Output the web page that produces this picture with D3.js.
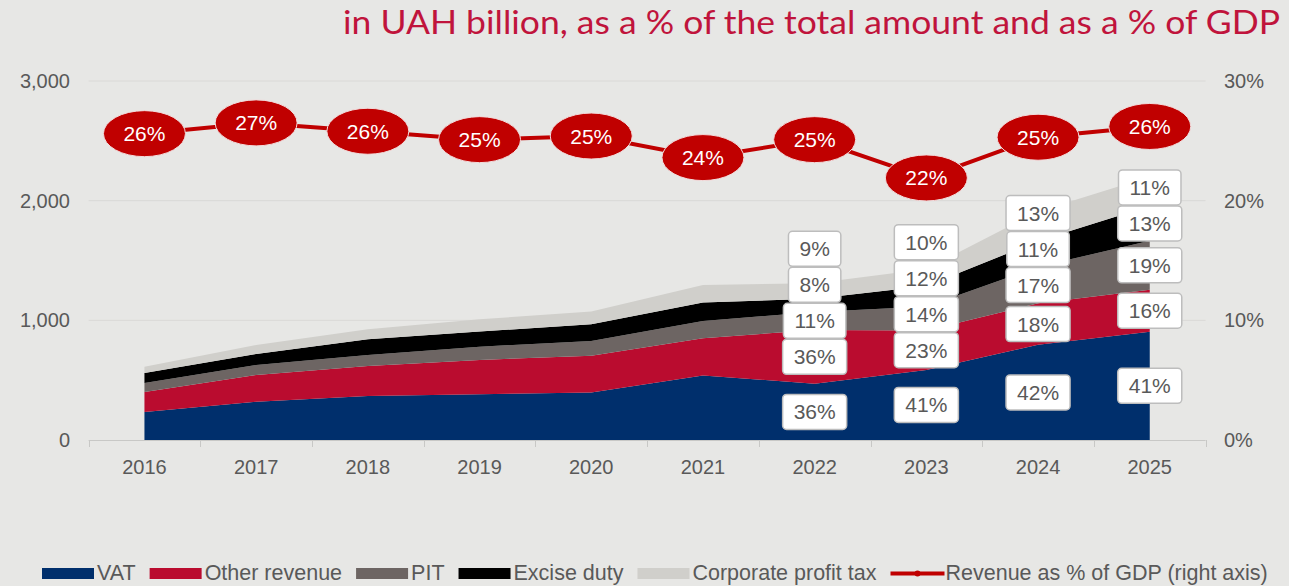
<!DOCTYPE html>
<html>
<head>
<meta charset="utf-8">
<script src="https://cdn.jsdelivr.net/npm/d3@7/dist/d3.min.js"></script>
<style>
    body { margin: 0; background: #e7e7e5; }
    svg { display: block; }
</style>
</head>
<body>
<svg id="chart"></svg>
<script>
// chart data (UAH billion)
var years = [2016, 2017, 2018, 2019, 2020, 2021, 2022, 2023, 2024, 2025];
var vat = [234, 320, 368, 382, 396, 540, 470, 586, 795, 905];
var otherRevenue = [167, 223, 251, 287, 309, 310, 450, 329, 347, 350];
var pit = [75, 84, 92, 111, 123, 145, 150, 200, 305, 410];
var excise = [84, 92, 131, 126, 139, 153, 110, 172, 215, 290];
var profitTax = [53, 75, 83, 103, 106, 147, 130, 143, 248, 245];
var gdpShare = [25.6, 26.5, 25.8, 25.1, 25.4, 23.6, 25.1, 21.9, 25.3, 26.2];

// shares of total shown in the boxes
var labelYears = [2022, 2023, 2024, 2025];
var vatShare = [36, 41, 42, 41];
var otherShare = [36, 23, 18, 16];
var pitShare = [11, 14, 17, 19];
var exciseShare = [8, 12, 11, 13];
var profitShare = [9, 10, 13, 11];

var leftTicks = [0, 1000, 2000, 3000];
var rightTicks = [0, 10, 20, 30];
var seriesNames = ["VAT", "Other revenue", "PIT", "Excise duty", "Corporate profit tax"];
var lineName = "Revenue as % of GDP (right axis)";
var titleText = "in UAH billion, as a % of the total amount and as a % of GDP";

var svgWidth = 1289,
    svgHeight = 586;
var colors = ["#002f6c", "#ba0c2f", "#6d6563", "#000000", "#d0cfcb"];
var lineColor = "#c00000";
var textColor = "#595959";
var font = "'Liberation Sans', Arial, sans-serif";

var svg = d3.select("#chart")
    .attr("width", svgWidth)
    .attr("height", svgHeight)
    .style("background", "#e7e7e5");

var x = d3.scaleBand().domain(years).range([88.6, 1205.6]);
var y = d3.scaleLinear().domain([0, 3000]).range([440, 81]);
var yRight = d3.scaleLinear().domain([0, 30]).range([440, 81]);
var cx = function (yr) { return x(yr) + x.bandwidth() / 2; };

// title
svg.append("text")
    .attr("x", 343)
    .attr("y", 34)
    .attr("textLength", 937)
    .attr("lengthAdjust", "spacingAndGlyphs")
    .attr("fill", "#c0143c")
    .attr("font-family", "Lato, 'Open Sans', sans-serif")
    .attr("font-size", "32px")
    .text(titleText);

// gridlines
svg.selectAll(".grid")
    .data(leftTicks.filter(function (d) { return d > 0; }))
    .enter().append("line")
    .attr("x1", x.range()[0])
    .attr("x2", x.range()[1])
    .attr("y1", function (d) { return y(d); })
    .attr("y2", function (d) { return y(d); })
    .attr("stroke", "#dad9d7")
    .attr("stroke-width", 1);

// stacked areas
var rows = years.map(function (yr, i) {
    return {
        year: yr,
        "VAT": vat[i],
        "Other revenue": otherRevenue[i],
        "PIT": pit[i],
        "Excise duty": excise[i],
        "Corporate profit tax": profitTax[i]
    };
});
var stacked = d3.stack().keys(seriesNames)(rows);

var area = d3.area()
    .x(function (d) { return cx(d.data.year); })
    .y0(function (d) { return y(d[0]); })
    .y1(function (d) { return y(d[1]); });

svg.selectAll(".area")
    .data(stacked)
    .enter().append("path")
    .attr("d", area)
    .attr("fill", function (d, i) { return colors[i]; });

// x axis line + ticks at band edges
svg.append("line")
    .attr("x1", x.range()[0]).attr("x2", x.range()[1])
    .attr("y1", 440.5).attr("y2", 440.5)
    .attr("stroke", "#c8c8c6");
var edges = years.map(function (yr) { return x(yr); }).concat([x.range()[1]]);
svg.selectAll(".xtick")
    .data(edges)
    .enter().append("line")
    .attr("x1", function (d) { return Math.round(d) + 0.5; })
    .attr("x2", function (d) { return Math.round(d) + 0.5; })
    .attr("y1", 440).attr("y2", 447)
    .attr("stroke", "#c8c8c6");

svg.selectAll(".xlabel")
    .data(years)
    .enter().append("text")
    .attr("x", function (d) { return cx(d); })
    .attr("y", 474)
    .attr("text-anchor", "middle")
    .attr("fill", textColor)
    .attr("font-family", font)
    .attr("font-size", "20px")
    .text(function (d) { return d; });

// left + right axis labels
svg.selectAll(".ylabel")
    .data(leftTicks)
    .enter().append("text")
    .attr("x", 70)
    .attr("y", function (d) { return y(d) + 7; })
    .attr("text-anchor", "end")
    .attr("fill", textColor)
    .attr("font-family", font)
    .attr("font-size", "20px")
    .text(function (d) { return d3.format(",")(d); });

svg.selectAll(".yrlabel")
    .data(rightTicks)
    .enter().append("text")
    .attr("x", 1224)
    .attr("y", function (d) { return yRight(d) + 7; })
    .attr("fill", textColor)
    .attr("font-family", font)
    .attr("font-size", "20px")
    .text(function (d) { return d + "%"; });

// share boxes, centred on each band, pushed up when they crowd
var shares = [vatShare, otherShare, pitShare, exciseShare, profitShare];
var minGap = 36;
labelYears.forEach(function (yr, j) {
    var idx = years.indexOf(yr);
    var prev = null;
    stacked.forEach(function (s, i) {
        var d = s[idx];
        var c = (y(d[0]) + y(d[1])) / 2;
        if (prev !== null && prev - c < minGap) c = prev - minGap;
        prev = c;

        var g = svg.append("g");
        var rect = g.append("rect");
        var t = g.append("text")
            .attr("x", cx(yr))
            .attr("y", c + 7.5)
            .attr("text-anchor", "middle")
            .attr("fill", textColor)
            .attr("font-family", font)
            .attr("font-size", "21px")
            .text(shares[i][j] + "%");
        var w = t.node().getComputedTextLength() + 22;
        rect.attr("x", cx(yr) - w / 2)
            .attr("y", c - 17.5)
            .attr("width", w)
            .attr("height", 35)
            .attr("rx", 4)
            .attr("fill", "#ffffff")
            .attr("stroke", "#bdbdbd")
            .attr("stroke-width", 1.5);
    });
});

// revenue as % of GDP line
var line = d3.line()
    .x(function (d, i) { return cx(years[i]); })
    .y(function (d) { return yRight(d); });

svg.append("path")
    .attr("d", line(gdpShare))
    .attr("fill", "none")
    .attr("stroke", lineColor)
    .attr("stroke-width", 4);

svg.selectAll(".bubble")
    .data(gdpShare)
    .enter().append("ellipse")
    .attr("cx", function (d, i) { return cx(years[i]); })
    .attr("cy", function (d) { return yRight(d); })
    .attr("rx", 41)
    .attr("ry", 23)
    .attr("fill", lineColor)
    .attr("stroke", "#f2dcdc")
    .attr("stroke-width", 1);

svg.selectAll(".bubbleText")
    .data(gdpShare)
    .enter().append("text")
    .attr("x", function (d, i) { return cx(years[i]); })
    .attr("y", function (d) { return yRight(d) + 7.5; })
    .attr("text-anchor", "middle")
    .attr("fill", "#ffffff")
    .attr("font-family", font)
    .attr("font-size", "21px")
    .text(function (d) { return Math.round(d) + "%"; });

// legend
var legend = svg.append("g");
var lx = 42;
seriesNames.concat([lineName]).forEach(function (name, i) {
    if (i < seriesNames.length) {
        legend.append("rect")
            .attr("x", lx).attr("y", 568)
            .attr("width", 52).attr("height", 11)
            .attr("fill", colors[i]);
    } else {
        legend.append("line")
            .attr("x1", lx).attr("x2", lx + 54)
            .attr("y1", 573.5).attr("y2", 573.5)
            .attr("stroke", lineColor)
            .attr("stroke-width", 4);
        legend.append("circle")
            .attr("cx", lx + 27).attr("cy", 573.5).attr("r", 3)
            .attr("fill", lineColor);
    }
    var t = legend.append("text")
        .attr("x", lx + 55)
        .attr("y", 580)
        .attr("fill", textColor)
        .attr("font-family", font)
        .attr("font-size", "21.5px")
        .text(name);
    lx = lx + 55 + t.node().getComputedTextLength() + 14;
});
</script>
</body>
</html>
